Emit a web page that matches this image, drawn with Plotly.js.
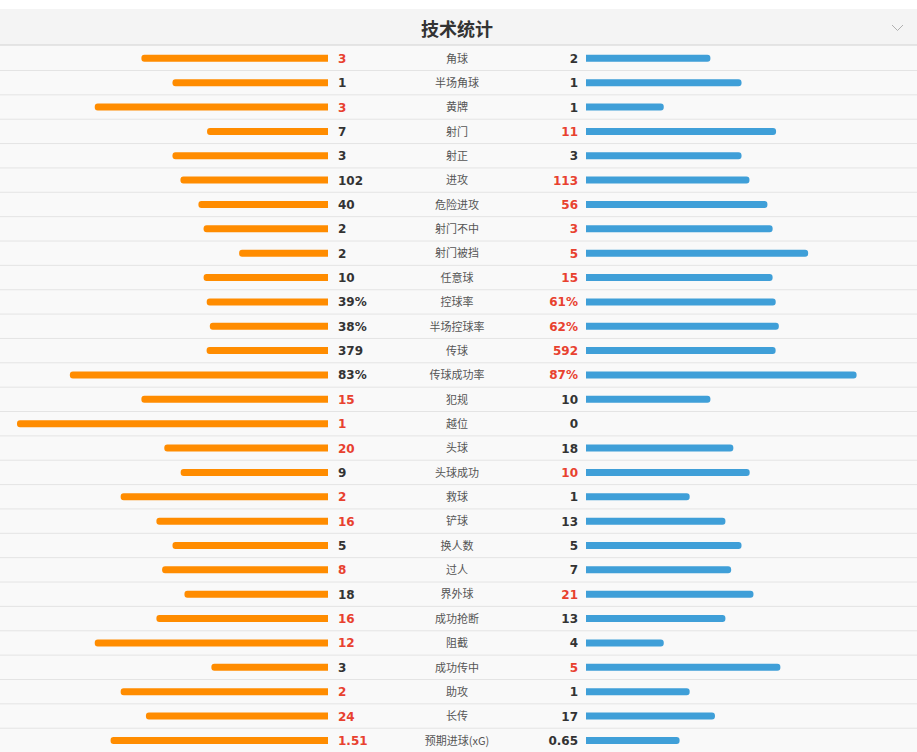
<!DOCTYPE html>
<html>
<head>
<meta charset="utf-8">
<script src="https://cdn.plot.ly/plotly-3.0.1.min.js"></script>
<style>
html,body{margin:0;padding:0;background:#ffffff;}
#chart{width:917px;height:752px;}
</style>
</head>
<body>
<div id="chart"></div>
<script>
const categories = ["角球","半场角球","黄牌","射门","射正","进攻","危险进攻","射门不中","射门被挡","任意球","控球率","半场控球率","传球","传球成功率","犯规","越位","头球","头球成功","救球","铲球","换人数","过人","界外球","成功抢断","阻截","成功传中","助攻","长传","预期进球(xG)"];
const homeValues = [3,1,3,7,3,102,40,2,2,10,39,38,379,83,15,1,20,9,2,16,5,8,18,16,12,3,2,24,1.51];
const awayValues = [2,1,1,11,3,113,56,3,5,15,61,62,592,87,10,0,18,10,1,13,5,7,21,13,4,5,1,17,0.65];
const homeLabels = ["3","1","3","7","3","102","40","2","2","10","39%","38%","379","83%","15","1","20","9","2","16","5","8","18","16","12","3","2","24","1.51"];
const awayLabels = ["2","1","1","11","3","113","56","3","5","15","61%","62%","592","87%","10","0","18","10","1","13","5","7","21","13","4","5","1","17","0.65"];
// rows whose bars show the rate itself (out of 100%) rather than the share of the total
const rateRows = ["传球成功率"];
const chartTitle = "技术统计";

const W = 917, H = 752;
const rowTop = 58.3, rowH = 24.36;
const n = categories.length;
const idx = categories.map((_, i) => i);
function share(a, b, cat) {
  if (rateRows.includes(cat)) return a / 100;
  return (a + b) > 0 ? a / (a + b) : 0;
}
const homeShare = homeValues.map((v, i) => share(v, awayValues[i], categories[i]));
const awayShare = awayValues.map((v, i) => share(v, homeValues[i], categories[i]));
const RED = "#e8412f", DARK = "#333333";
const homeColors = homeValues.map((v, i) => v > awayValues[i] ? RED : DARK);
const awayColors = awayValues.map((v, i) => v > homeValues[i] ? RED : DARK);
const barW = 7 / rowH;
const textShift = 1.5 / rowH;

const traces = [
  {type:"bar", orientation:"h", x:homeShare, y:idx, xaxis:"x", yaxis:"y", width:barW,
   marker:{color:"#ff8c00", cornerradius:"50%", line:{width:0}}, hoverinfo:"skip"},
  {type:"bar", orientation:"h", x:awayShare, y:idx, xaxis:"x2", yaxis:"y", width:barW,
   marker:{color:"#3f9fd8", cornerradius:"50%", line:{width:0}}, hoverinfo:"skip"},
  {type:"scatter", mode:"text", x:idx.map(() => 338), y:idx, xaxis:"x3", yaxis:"y2",
   text:homeLabels.map(s => "<b>" + s + "</b>"), textposition:"middle right",
   textfont:{family:"DejaVu Sans, Verdana, sans-serif", size:12, color:homeColors},
   cliponaxis:false, hoverinfo:"skip"},
  {type:"scatter", mode:"text", x:idx.map(() => 578), y:idx, xaxis:"x3", yaxis:"y2",
   text:awayLabels.map(s => "<b>" + s + "</b>"), textposition:"middle left",
   textfont:{family:"DejaVu Sans, Verdana, sans-serif", size:12, color:awayColors},
   cliponaxis:false, hoverinfo:"skip"},
  {type:"scatter", mode:"text", x:idx.map(() => 457), y:idx, xaxis:"x3", yaxis:"y2",
   text:categories, textposition:"middle center",
   textfont:{family:"Noto Sans CJK SC, sans-serif", size:11, color:"#555555"},
   cliponaxis:false, hoverinfo:"skip"}
];

const shapes = [
  {type:"rect", xref:"paper", yref:"paper", x0:0, x1:1, y0:1 - 9/H, y1:1, fillcolor:"#ffffff", line:{width:0}, layer:"below"},
  {type:"rect", xref:"paper", yref:"paper", x0:0, x1:1, y0:1 - 45/H, y1:1 - 9/H, fillcolor:"#f4f4f4", line:{width:0}, layer:"below"},
  {type:"line", xref:"paper", yref:"paper", x0:0, x1:1, y0:1 - 45/H, y1:1 - 45/H, line:{color:"#dedede", width:1.5}},
  {type:"path", xref:"paper", yref:"paper",
   path:`M${892/W},${1-25/H} L${897.5/W},${1-30.5/H} L${903/W},${1-25/H}`,
   line:{color:"#b0b0b0", width:1}}
];
for (let i = 0; i < n - 1; i++) {
  shapes.push({type:"line", xref:"paper", yref:"y", x0:0, x1:1, y0:i + 0.5, y1:i + 0.5,
    line:{color:"#e4e4e4", width:1}, layer:"below"});
}

const yRange = [(H - rowTop) / rowH, -rowTop / rowH];
const layout = {
  width:W, height:H,
  margin:{l:0, r:0, t:0, b:0, pad:0},
  paper_bgcolor:"#f9f9f9", plot_bgcolor:"rgba(0,0,0,0)",
  showlegend:false, barmode:"overlay",
  xaxis:{domain:[17/W, 328/W], range:[1, 0], visible:false, fixedrange:true, anchor:"y"},
  xaxis2:{domain:[586/W, 897/W], range:[0, 1], visible:false, fixedrange:true, anchor:"y"},
  xaxis3:{domain:[0, 1], range:[0, W], visible:false, fixedrange:true, anchor:"y2"},
  yaxis:{range:yRange, visible:false, fixedrange:true},
  yaxis2:{range:[yRange[0] - textShift, yRange[1] - textShift], visible:false, fixedrange:true, overlaying:"y"},
  shapes:shapes,
  annotations:[
    {xref:"paper", yref:"paper", x:457/W, y:1 - 28/H, xanchor:"center", yanchor:"middle",
     text:"<b>" + chartTitle + "</b>", showarrow:false,
     font:{family:"Noto Sans CJK SC, sans-serif", size:18, color:"#333333"}}
  ]
};

Plotly.newPlot("chart", traces, layout, {displayModeBar:false, staticPlot:true});
</script>
</body>
</html>
